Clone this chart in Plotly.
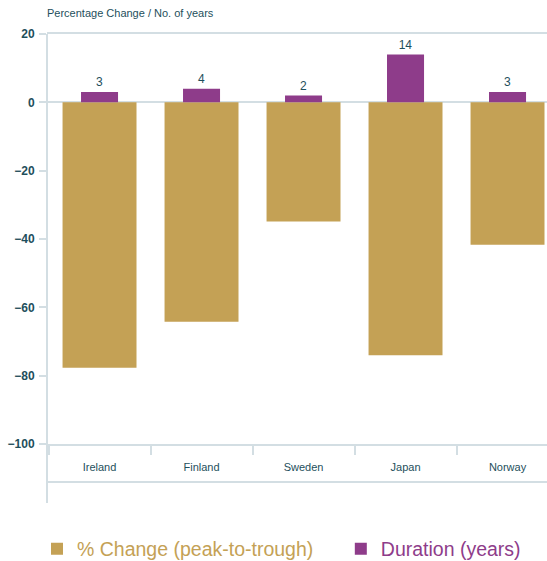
import plotly.graph_objects as go

countries = ["Ireland", "Finland", "Sweden", "Japan", "Norway"]
pct_change = [-77.7, -64.2, -34.9, -74.0, -41.7]
duration = [3, 4, 2, 14, 3]
y_ticks = [20, 0, -20, -40, -60, -80, -100]

GOLD = "#C4A155"
PURPLE = "#8E3C8A"
TEAL = "#1E4F5C"
LINE = "#D3DEE3"
FONT = "Liberation Sans, Arial, Helvetica, sans-serif"

fig = go.Figure()
fig.add_trace(go.Bar(
    x=countries, y=pct_change, width=0.725, marker_color=GOLD,
    marker_line_width=0,
    name=f"<span style='color:{GOLD}'>% Change (peak-to-trough)</span>" + "&nbsp;" * 6,
    hoverinfo="x+y",
))
fig.add_trace(go.Bar(
    x=countries, y=duration, width=0.363, marker_color=PURPLE,
    marker_line_width=0,
    text=[str(v) for v in duration], textposition="outside",
    textfont=dict(family=FONT, size=12, color=TEAL),
    cliponaxis=False,
    name=f"<span style='color:{PURPLE}'>Duration (years)</span>",
    hoverinfo="x+y",
))

fig.update_layout(
    width=547, height=561,
    margin=dict(l=47, r=0, t=34, b=117, autoexpand=False),
    paper_bgcolor="white", plot_bgcolor="white",
    barmode="overlay",
    showlegend=True,
    legend=dict(
        orientation="h", x=0, xanchor="left", y=-0.256, yanchor="middle",
        font=dict(family=FONT, size=19.5),
        indentation=-10,
        traceorder="normal",
    ),
    title=dict(
        text="Percentage Change / No. of years",
        x=0, xref="paper", xanchor="left",
        y=1 - 13 / 561, yanchor="middle",
        font=dict(family=FONT, size=11, color=TEAL),
    ),
    xaxis=dict(
        type="category", range=[-0.515, 4.387],
        tickson="boundaries", ticks="outside", ticklen=9, tickwidth=2, tickcolor=LINE,
        showline=True, mirror=True, linecolor=LINE, linewidth=2,
        showgrid=False, zeroline=False,
        tickfont=dict(family=FONT, size=11, color=TEAL),
        ticklabelstandoff=12,
        fixedrange=True,
    ),
    yaxis=dict(
        range=[-100, 20], tickvals=y_ticks,
        ticks="outside", ticklen=7, tickwidth=2, tickcolor=LINE,
        showline=False, showgrid=False,
        zeroline=True, zerolinecolor=LINE, zerolinewidth=2,
        tickfont=dict(family=FONT, size=12, color=TEAL, weight="bold"),
        ticklabelstandoff=2,
        fixedrange=True,
    ),
    shapes=[
        dict(type="line", xref="paper", yref="paper", x0=0, x1=0, y0=1, y1=-0.144,
             line=dict(color=LINE, width=2)),
        dict(type="line", xref="paper", yref="paper", x0=0, x1=1, y0=-0.0927, y1=-0.0927,
             line=dict(color=LINE, width=2)),
    ],
)

fig.write_html(
    "out.html",
    config={"displayModeBar": False},
    post_script="document.body.style.margin='0';document.documentElement.style.overflow='hidden';",
)
